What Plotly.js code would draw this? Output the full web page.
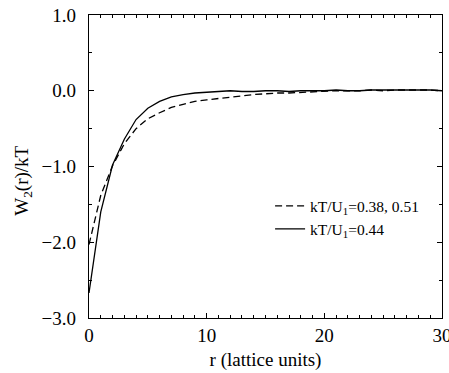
<!DOCTYPE html>
<html>
<head>
<meta charset="utf-8">
<script src="https://cdn.plot.ly/plotly-3.0.1.min.js"></script>
<style>html,body{margin:0;padding:0;background:#fff;}#chart{width:449px;height:373px;}</style>
</head>
<body>
<div id="chart"></div>
<script>
var r = [0,1,2,3,4,5,6,7,8,9,10,11,12,13,14,15,16,17,18,19,20,21,22,23,24,25,26,27,28,29,30];
var wSolid044 = [-2.67,-1.60,-0.98,-0.64,-0.38,-0.23,-0.14,-0.08,-0.05,-0.03,-0.02,-0.01,0.00,-0.01,-0.01,0.00,0.00,-0.01,0.00,0.00,0.00,0.01,0.00,0.00,0.01,0.01,0.01,0.02,0.01,0.01,0.00];
var wDashed038 = [-2.03,-1.38,-0.99,-0.70,-0.50,-0.37,-0.29,-0.22,-0.18,-0.14,-0.12,-0.10,-0.08,-0.06,-0.05,-0.04,-0.03,-0.03,-0.02,-0.01,-0.01,0.00,0.00,0.00,0.01,0.00,0.01,0.01,0.01,0.01,0.00];
var legendNames = ["kT/U<sub>1</sub>=0.38, 0.51", "kT/U<sub>1</sub>=0.44"];
var xTicks = [0,10,20,30];
var xTickText = ["0","10","20","30"];
var yTicks = [-3,-2,-1,0,1];
var yTickText = ["\u22123.0","\u22122.0","\u22121.0","0.0","1.0"];

var FAM = "Liberation Serif, serif";
var traces = [
  {x: r, y: wDashed038, mode: "lines", name: legendNames[0],
   line: {color: "#000", width: 1.3, dash: "7px,4px"}},
  {x: r, y: wSolid044, mode: "lines", name: legendNames[1],
   line: {color: "#000", width: 1.3}}
];
var layout = {
  width: 449, height: 373,
  margin: {l: 89, r: 7, t: 15, b: 55},
  paper_bgcolor: "#fff", plot_bgcolor: "#fff",
  font: {family: FAM, size: 19, color: "#000"},
  showlegend: true,
  legend: {x: 0.513, y: 0.425, xanchor: "left", yanchor: "top",
           bgcolor: "rgba(0,0,0,0)", font: {family: FAM, size: 15.5, color: "#000"},
           tracegroupgap: 0, itemwidth: 30},
  xaxis: {
    range: [0, 30], tickmode: "array", tickvals: xTicks, ticktext: xTickText,
    showline: true, linecolor: "#000", linewidth: 1.3, mirror: "ticks",
    ticks: "inside", ticklen: 5, tickwidth: 1, tickcolor: "#000",
    showgrid: false, zeroline: false, ticklabeloverflow: "allow",
    tickfont: {family: FAM, size: 19, color: "#000"},
    minor: {dtick: 1, ticks: "inside", ticklen: 3, tickcolor: "#000", showgrid: false},
    title: {text: "r (lattice units)", font: {family: FAM, size: 19, color: "#000"}, standoff: 7}
  },
  yaxis: {
    range: [-3, 1], tickmode: "array", tickvals: yTicks, ticktext: yTickText,
    showline: true, linecolor: "#000", linewidth: 1.3, mirror: "ticks",
    ticks: "inside", ticklen: 5, tickwidth: 1, tickcolor: "#000",
    showgrid: false, zeroline: false,
    tickfont: {family: FAM, size: 19, color: "#000"},
    minor: {dtick: 0.5, tick0: 0, ticks: "inside", ticklen: 3, tickcolor: "#000", showgrid: false},
    ticklabelstandoff: 8,
    title: {text: "W<sub>2</sub>(r)/kT&nbsp;&nbsp;&nbsp;&nbsp;&nbsp;&nbsp;", font: {family: FAM, size: 19, color: "#000"}, standoff: 7}
  }
};
Plotly.newPlot("chart", traces, layout, {displayModeBar: false, staticPlot: true});
</script>
</body>
</html>
